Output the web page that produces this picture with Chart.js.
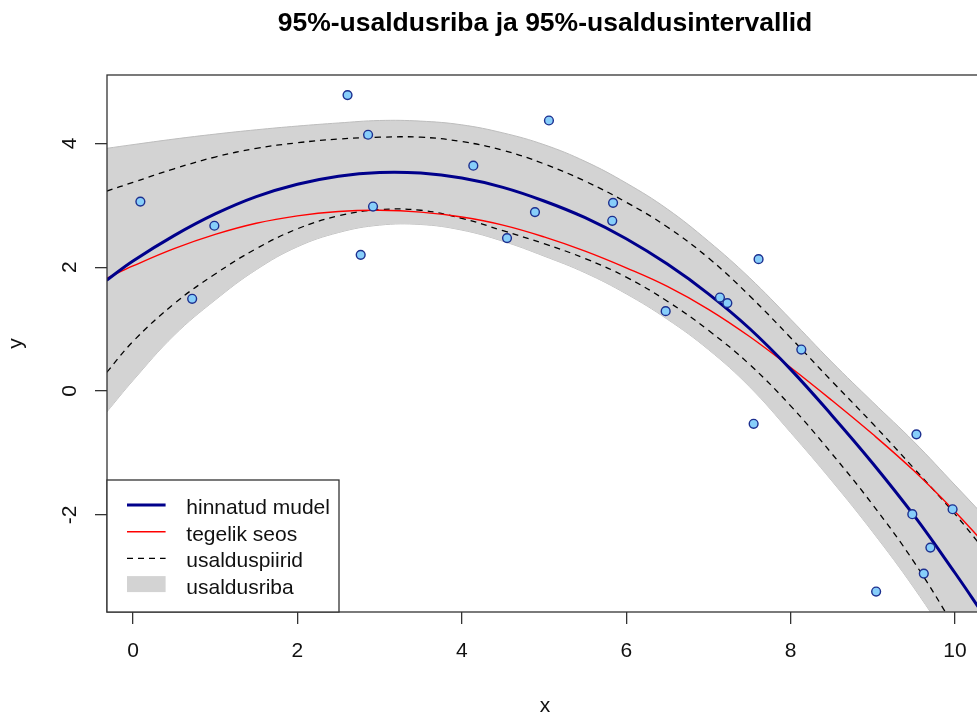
<!DOCTYPE html>
<html><head><meta charset="utf-8">
<script src="https://cdn.jsdelivr.net/npm/chart.js@4.4.1/dist/chart.umd.min.js"></script>
<style>
html,body{margin:0;padding:0;background:#fff;overflow:hidden;width:977px;height:717px}
#wrap{width:1090px;height:717px}
</style></head>
<body><div id="wrap"><canvas id="c" width="1090" height="717"></canvas></div>
<script>
// ---- data ----
const gridX     = [-0.32, 0, 0.5, 1, 1.5, 2, 2.5, 3, 3.5, 4, 4.5, 5, 5.5, 6, 6.5, 7, 7.5, 8, 8.5, 9, 9.5, 10, 10.34];
const fitY      = [1.79, 2.10, 2.51, 2.86, 3.14, 3.34, 3.47, 3.53, 3.52, 3.44, 3.29, 3.07, 2.80, 2.46, 2.05, 1.57, 1.01, 0.35, -0.39, -1.17, -2.01, -2.94, -3.60];
const trueY     = [1.82, 2.02, 2.30, 2.53, 2.71, 2.83, 2.90, 2.92, 2.89, 2.81, 2.68, 2.49, 2.26, 1.99, 1.69, 1.32, 0.88, 0.38, -0.15, -0.70, -1.29, -1.95, -2.44];
const ciUpper   = [3.23, 3.37, 3.59, 3.78, 3.92, 4.01, 4.07, 4.10, 4.10, 4.03, 3.89, 3.67, 3.39, 3.05, 2.65, 2.15, 1.54, 0.86, 0.16, -0.53, -1.25, -1.99, -2.54];
const ciLower   = [0.30, 0.80, 1.41, 1.89, 2.30, 2.62, 2.83, 2.93, 2.92, 2.79, 2.59, 2.38, 2.14, 1.84, 1.45, 0.98, 0.43, -0.24, -1.01, -1.84, -2.76, -3.83, -4.60];
const bandUpper = [3.92, 3.98, 4.07, 4.15, 4.22, 4.28, 4.33, 4.37, 4.36, 4.30, 4.17, 3.98, 3.71, 3.36, 2.94, 2.42, 1.83, 1.16, 0.47, -0.18, -0.82, -1.52, -2.00];
const bandLower = [-0.34, 0.17, 0.90, 1.47, 1.96, 2.33, 2.56, 2.68, 2.69, 2.60, 2.42, 2.18, 1.91, 1.57, 1.16, 0.67, 0.07, -0.67, -1.45, -2.28, -3.18, -4.18, -4.90];
const obsX = [0.09, 0.99, 0.72, 2.61, 2.86, 2.92, 2.77, 5.06, 4.14, 4.89, 4.55, 5.84, 5.83, 6.48, 7.61, 7.14, 7.23, 8.13, 7.55, 9.53, 9.97, 9.48, 9.70, 9.62, 9.04];
const obsY = [3.06, 2.67, 1.49, 4.78, 4.14, 2.98, 2.20, 4.37, 3.64, 2.89, 2.47, 3.04, 2.75, 1.29, 2.13, 1.51, 1.42, 0.67, -0.53, -0.70, -1.91, -1.99, -2.53, -2.95, -3.24];
const xTicks = [0, 2, 4, 6, 8, 10];
const yTicks = [-2, 0, 2, 4];
const legendLabels = ['hinnatud mudel', 'tegelik seos', 'usalduspiirid', 'usaldusriba'];
const titleText = '95%-usaldusriba ja 95%-usaldusintervallid';

const FAM = '"Liberation Sans", Arial, Helvetica, sans-serif';
const xy = (xs, ys) => xs.map((x, i) => ({x: x, y: ys[i]}));
const lineDs = (data, color, width, order, extra) => Object.assign({
  type: 'line', data: data, borderColor: color, borderWidth: width, pointRadius: 0,
  fill: false, tension: 0.4, order: order
}, extra || {});

const framePlugin = {
  id: 'frameAndExtras',
  afterDatasetsDraw(chart) {
    const ctx = chart.ctx, ca = chart.chartArea;
    ctx.save();
    ctx.strokeStyle = '#333'; ctx.lineWidth = 1.3;
    ctx.strokeRect(ca.left, ca.top, ca.right - ca.left, ca.bottom - ca.top);
    ctx.restore();
  },
  afterDraw(chart) {
    const ctx = chart.ctx, ca = chart.chartArea, ys = chart.scales.y;
    // rotated y tick labels (R style)
    ctx.save();
    ctx.font = '21px ' + FAM; ctx.fillStyle = '#111';
    ctx.textAlign = 'center'; ctx.textBaseline = 'alphabetic';
    yTicks.forEach(v => {
      const py = ys.getPixelForValue(v);
      ctx.save(); ctx.translate(ca.left - 31, py); ctx.rotate(-Math.PI / 2);
      ctx.fillText(String(v), 0, 0); ctx.restore();
    });
    ctx.restore();
    // legend box in bottom-left corner
    const bw = 232, bh = 132, bx = ca.left, by = ca.bottom - bh;
    ctx.save();
    ctx.fillStyle = '#fff'; ctx.fillRect(bx, by, bw, bh);
    ctx.strokeStyle = '#333'; ctx.lineWidth = 1.3; ctx.strokeRect(bx, by, bw, bh);
    const sx0 = bx + 20, sx1 = bx + 58.6, tx = bx + 79.3;
    legendLabels.forEach((lab, i) => {
      const ry = by + 25 + i * 26.7;
      ctx.setLineDash([]);
      if (i === 0) { ctx.strokeStyle = '#00008B'; ctx.lineWidth = 3; }
      if (i === 1) { ctx.strokeStyle = '#ff0000'; ctx.lineWidth = 1.5; }
      if (i === 2) { ctx.strokeStyle = '#000'; ctx.lineWidth = 1.3; ctx.setLineDash([6, 5]); }
      if (i < 3) {
        ctx.beginPath(); ctx.moveTo(sx0, ry); ctx.lineTo(sx1, ry); ctx.stroke();
      } else {
        ctx.fillStyle = '#d3d3d3'; ctx.fillRect(sx0, ry - 9, sx1 - sx0, 16);
      }
      ctx.setLineDash([]);
      ctx.fillStyle = '#111'; ctx.font = '21px ' + FAM;
      ctx.textAlign = 'left'; ctx.textBaseline = 'alphabetic';
      ctx.fillText(lab, tx, ry + 9);
    });
    ctx.restore();
  }
};

const axisCommon = {
  type: 'linear',
  grid: {display: true, drawOnChartArea: false, drawTicks: true, tickLength: 12, color: '#333', lineWidth: 1.3},
  border: {display: false}
};

new Chart(document.getElementById('c'), {
  type: 'scatter',
  data: {
    datasets: [
      {type: 'scatter', data: xy(obsX, obsY), pointRadius: 4.4, pointBorderWidth: 1.4,
       backgroundColor: '#87CEFA', borderColor: '#1c2f8f', order: 0},
      lineDs(xy(gridX, fitY), '#00008B', 3, 1),
      lineDs(xy(gridX, trueY), '#ff0000', 1.4, 2),
      lineDs(xy(gridX, ciUpper), '#000', 1.3, 3, {borderDash: [6, 5]}),
      lineDs(xy(gridX, ciLower), '#000', 1.3, 4, {borderDash: [6, 5]}),
      lineDs(xy(gridX, bandUpper), '#bdbdbd', 1, 5, {fill: '+1', backgroundColor: '#d3d3d3'}),
      lineDs(xy(gridX, bandLower), '#bdbdbd', 1, 6)
    ]
  },
  options: {
    responsive: false, animation: false, devicePixelRatio: 1,
    layout: {padding: {left: 0, right: 107, top: 0, bottom: 0}},
    plugins: {
      legend: {display: false}, tooltip: {enabled: false},
      title: {display: true, text: titleText, fullSize: false, color: '#000',
              font: {family: FAM, size: 26.5, weight: 'bold', lineHeight: 1.2},
              padding: {top: 8, bottom: 35.2}}
    },
    scales: {
      x: Object.assign({}, axisCommon, {
        position: 'bottom', min: -0.316, max: 10.34,
        afterBuildTicks: s => { s.ticks = xTicks.map(v => ({value: v})); },
        afterFit: s => { s.height = 105; },
        ticks: {font: {family: FAM, size: 21}, color: '#111', padding: 15, maxRotation: 0, autoSkip: false},
        title: {display: true, text: 'x', color: '#111', font: {family: FAM, size: 21, lineHeight: 1}, padding: {top: 0, bottom: 0}}
      }),
      y: Object.assign({}, axisCommon, {
        position: 'left', min: -3.57, max: 5.105,
        afterBuildTicks: s => { s.ticks = yTicks.map(v => ({value: v})); },
        afterFit: s => { s.width = 107; },
        ticks: {display: false},
        title: {display: true, text: 'y', color: '#111', font: {family: FAM, size: 21, lineHeight: 1.2}, padding: {top: 4, bottom: 0}}
      })
    }
  },
  plugins: [framePlugin]
});
</script>
</body></html>
